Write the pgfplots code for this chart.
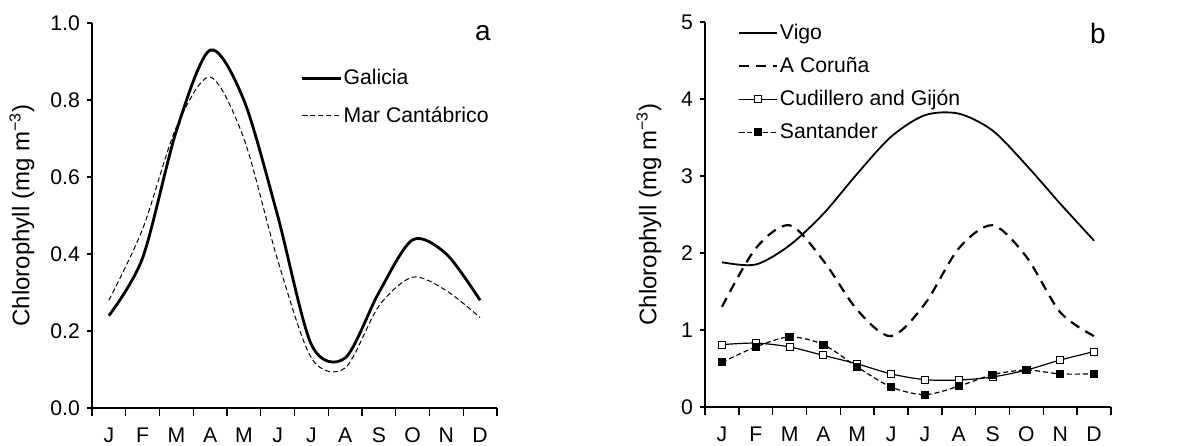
\documentclass[border=0pt]{standalone}
\usepackage{fontspec}
\setmainfont{Liberation Sans}
\usepackage{pgfplots}
\pgfplotsset{compat=1.18}

\pgfplotsset{
  chl/.style={
    scale only axis,
    axis x line=bottom, axis y line=left,
    axis line style={-, line width=0.7pt},
    xmin=0, xmax=12,
    xtick={0.5,1.5,...,11.5},
    xticklabels={J,F,M,A,M,J,J,A,S,O,N,D},
    minor xtick={0,1,...,12},
    tick align=outside,
    major x tick style={draw=none},
    minor tick length=4pt,
    major tick length=2.5pt,
    tick style={line width=0.7pt, black},
    ticklabel style={font=\fontsize{10.6}{12}\selectfont},
    xticklabel style={text height=7.6pt, text depth=0pt, anchor=north, yshift=-3.5pt},
    /pgf/number format/assume math mode=true,
    ylabel={Chlorophyll (mg m\textsuperscript{−3})},
    ylabel style={font=\fontsize{12}{14}\selectfont, anchor=center},
    legend cell align=left,
    legend style={draw=none, fill=none, font=\fontsize{10.6}{12}\selectfont,
      nodes={inner sep=1pt}},
    legend image code/.code={
      \draw[mark repeat=2, mark phase=2, #1] plot coordinates {(0pt,0pt) (9.5pt,0pt) (19pt,0pt)};},
  }
}

\begin{document}
\begin{tikzpicture}
\useasboundingbox (0,0) rectangle (589.5pt,222.5pt);

% panel a
\begin{axis}[chl, at={(46pt,18.5pt)}, anchor=south west,
  width=202.5pt, height=192.4pt,
  ymin=0, ymax=1, ytick={0,0.2,...,1},
  yticklabel style={/pgf/number format/.cd, fixed, fixed zerofill, precision=1},
  ylabel style={at={(axis description cs:-0.173,0.5)}},
  legend style={at={(axis description cs:0.50,0.897)}, anchor=north west, row sep=7.5pt}]
\addplot[black, line width=1.4pt, smooth] coordinates {
  (0.5,0.24) (1.5,0.39) (2.5,0.72) (3.5,0.93) (4.5,0.80) (5.5,0.50)
  (6.5,0.165) (7.5,0.13) (8.5,0.30) (9.5,0.437) (10.5,0.40) (11.5,0.28)};
\addplot[black, line width=0.5pt, smooth, dash pattern=on 2.5pt off 1.5pt] coordinates {
  (0.5,0.28) (1.5,0.465) (2.5,0.73) (3.5,0.86) (4.5,0.70) (5.5,0.385)
  (6.5,0.13) (7.5,0.104) (8.5,0.265) (9.5,0.34) (10.5,0.305) (11.5,0.235)};
\legend{Galicia, Mar Cantábrico}
\node[font=\fontsize{14}{16}\selectfont] at (axis description cs:0.965,0.975) {a};
\end{axis}

% panel b
\begin{axis}[chl, at={(352.5pt,19pt)}, anchor=south west,
  width=203pt, height=192.5pt,
  ymin=0, ymax=5, ytick={0,1,...,5},
  ylabel style={at={(axis description cs:-0.138,0.5)}},
  legend style={at={(axis description cs:0.065,1.011)}, anchor=north west, row sep=5.3pt}]
\addplot[black, line width=0.9pt, smooth] coordinates {
  (0.5,1.88) (1.5,1.85) (2.5,2.10) (3.5,2.51) (4.5,3.03) (5.5,3.51)
  (6.5,3.79) (7.5,3.81) (8.5,3.59) (9.5,3.14) (10.5,2.64) (11.5,2.16)};
\addplot[black, line width=1.1pt, smooth, dash pattern=on 5pt off 3.5pt] coordinates {
  (0.5,1.30) (1.5,2.06) (2.5,2.36) (3.5,1.90) (4.5,1.26) (5.5,0.92)
  (6.5,1.34) (7.5,2.06) (8.5,2.36) (9.5,1.95) (10.5,1.23) (11.5,0.92)};
\addplot[black, line width=0.6pt, smooth, mark=square*, mark size=1.75pt,
  mark options={solid, fill=white, line width=0.5pt}] coordinates {
  (0.5,0.81) (1.5,0.83) (2.5,0.78) (3.5,0.67) (4.5,0.56) (5.5,0.43)
  (6.5,0.355) (7.5,0.35) (8.5,0.39) (9.5,0.48) (10.5,0.61) (11.5,0.72)};
\addplot[black, line width=0.6pt, smooth, dash pattern=on 2.5pt off 1.5pt,
  mark=square*, mark size=1.75pt, mark options={solid, fill=black}] coordinates {
  (0.5,0.58) (1.5,0.78) (2.5,0.91) (3.5,0.81) (4.5,0.52) (5.5,0.26)
  (6.5,0.16) (7.5,0.27) (8.5,0.42) (9.5,0.48) (10.5,0.43) (11.5,0.43)};
\legend{Vigo, A Coruña, Cudillero and Gijón, Santander}
\node[font=\fontsize{14}{16}\selectfont] at (axis description cs:0.968,0.971) {b};
\end{axis}
\end{tikzpicture}
\end{document}
